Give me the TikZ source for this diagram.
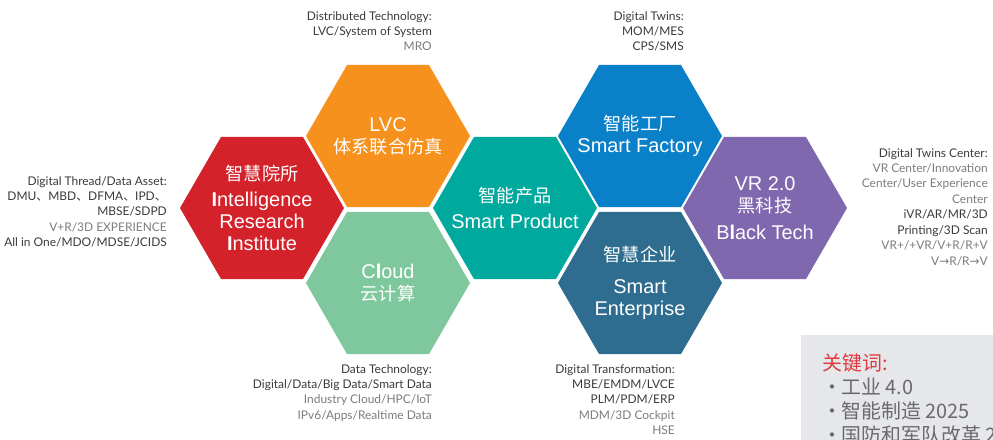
\documentclass[tikz,border=0pt]{standalone}
\usepackage{fontspec}
\setmainfont{Liberation Sans}
\newfontfamily\cjk{Noto Sans CJK SC}
\newfontfamily\sidefont{Lato}
\newfontfamily\sym{DejaVu Sans}
\usetikzlibrary{shapes.geometric, positioning}
\usepackage{xcolor}
\definecolor{ripred}{HTML}{D4222B}
\definecolor{lvcorange}{HTML}{F6911E}
\definecolor{cloudgreen}{HTML}{7FC89E}
\definecolor{prodteal}{HTML}{00A99D}
\definecolor{factblue}{HTML}{0A80C8}
\definecolor{entteal}{HTML}{2E6D8F}
\definecolor{techpurple}{HTML}{8068AF}
\definecolor{sidedark}{HTML}{3A3A3A}
\definecolor{sidegray}{HTML}{7C7C7C}
\definecolor{keygray}{HTML}{E5E7EA}
\definecolor{keyred}{HTML}{E03A3E}
\definecolor{keytext}{HTML}{6A6A6A}
\newcommand{\hz}[1]{{\cjk\fontsize{15.5pt}{18.7pt}\selectfont #1}}

\begin{document}
\begin{tikzpicture}[x=0.03cm,y=-0.03cm,
                    hex/.style={regular polygon,regular polygon sides=6,minimum size=4.92cm,inner sep=0pt},
                    hextext/.style={text=white,align=center,inner sep=0pt,font=\fontsize{17pt}{18.7pt}\selectfont}]
  \tikzstyle{side}=[anchor=north east,align=right,inner sep=0pt,text=sidedark,font=\sidefont\fontsize{10.2pt}{13.2pt}\selectfont]
  \tikzstyle{keyline}=[anchor=west,inner sep=0pt,font=\cjk\fontsize{17pt}{20.8pt}\selectfont]

  \path[use as bounding box] (0,0) rectangle (993,439);
  \clip (0,0) rectangle (993,439);

  % hexagons
  \node[hex, fill=ripred]     (rip)        at (262,208) {};
  \node[hex, fill=lvcorange]  (lvc)        at (388,136) {};
  \node[hex, fill=cloudgreen] (cloud)      at (388,283) {};
  \node[hex, fill=prodteal]   (product)    at (515,208) {};
  \node[hex, fill=factblue]   (factory)    at (640,136) {};
  \node[hex, fill=entteal]    (enterprise) at (640,283) {};
  \node[hex, fill=techpurple] (tech)       at (765,208) {};

  \node[hextext] (riptext)        at (rip)        {\hz{智慧院所}\\[3pt]\textbf{I}ntelligence\\Research\\\textbf{I}nstitute};
  \node[hextext] (lvctext)        at (lvc)        {LVC\\\hz{体系联合仿真}};
  \node[hextext] (cloudtext)      at (cloud)      {C\textbf{l}oud\\\hz{云计算}};
  \node[hextext] (producttext)    at (product)    {\hz{智能产品}\\[4pt]Smart Product};
  \node[hextext] (factorytext)    at (factory)    {\hz{智能工厂}\\Smart Factory};
  \node[hextext] (enterprisetext) at (enterprise) {\hz{智慧企业}\\[9pt]Smart\\Enterprise};
  \node[hextext] (techtext)       at (tech)       {VR 2.0\\\hz{黑科技}\\[4pt]B\textbf{l}ack Tech};

  % side notes
  \node[side] (thread) at (167,176) {Digital Thread/Data Asset:\\DMU{\cjk 、}MBD{\cjk 、}DFMA{\cjk 、}IPD{\cjk 、}\\MBSE/SDPD\\\textcolor{sidegray}{V+R/3D EXPERIENCE}\\All in One/MDO/MDSE/JCIDS};
  \node[side] (distrib) at (432,11) {Distributed Technology:\\LVC/System of System\\\textcolor{sidegray}{MRO}};
  \node[side] (twins) at (684,11) {Digital Twins:\\MOM/MES\\CPS/SMS};
  \node[side] (twinsctr) at (988,148) {Digital Twins Center:\\\textcolor{sidegray}{VR Center/Innovation}\\\textcolor{sidegray}{Center/User Experience}\\\textcolor{sidegray}{Center}\\iVR/AR/MR/3D\\Printing/3D Scan\\\textcolor{sidegray}{VR+/+VR/V+R/R+V}\\\textcolor{sidegray}{V{\sym →}R/R{\sym →}V}};
  \node[side] (datatech) at (432,364) {Data Technology:\\Digital/Data/Big Data/Smart Data\\\textcolor{sidegray}{Industry Cloud/HPC/IoT}\\\textcolor{sidegray}{IPv6/Apps/Realtime Data}};
  \node[side] (transform) at (675,364) {Digital Transformation:\\MBE/EMDM/LVCE\\PLM/PDM/ERP\\\textcolor{sidegray}{MDM/3D Cockpit}\\\textcolor{sidegray}{HSE}};

  % keywords box
  \fill[keygray] (801,335) rectangle (1000,445);
  \node[keyline, text=keyred] (keyhead) at (822,363) {关键词:};
  \node[keyline, text=keytext] (key1) at (822,387) {·\hspace{-0.5pt}工业 4.0};
  \node[keyline, text=keytext] (key2) at (822,411) {·\hspace{-0.5pt}智能制造 2025};
  \node[keyline, text=keytext] (key3) at (822,435) {·\hspace{-0.5pt}国防和军队改革 20};
\end{tikzpicture}
\end{document}
